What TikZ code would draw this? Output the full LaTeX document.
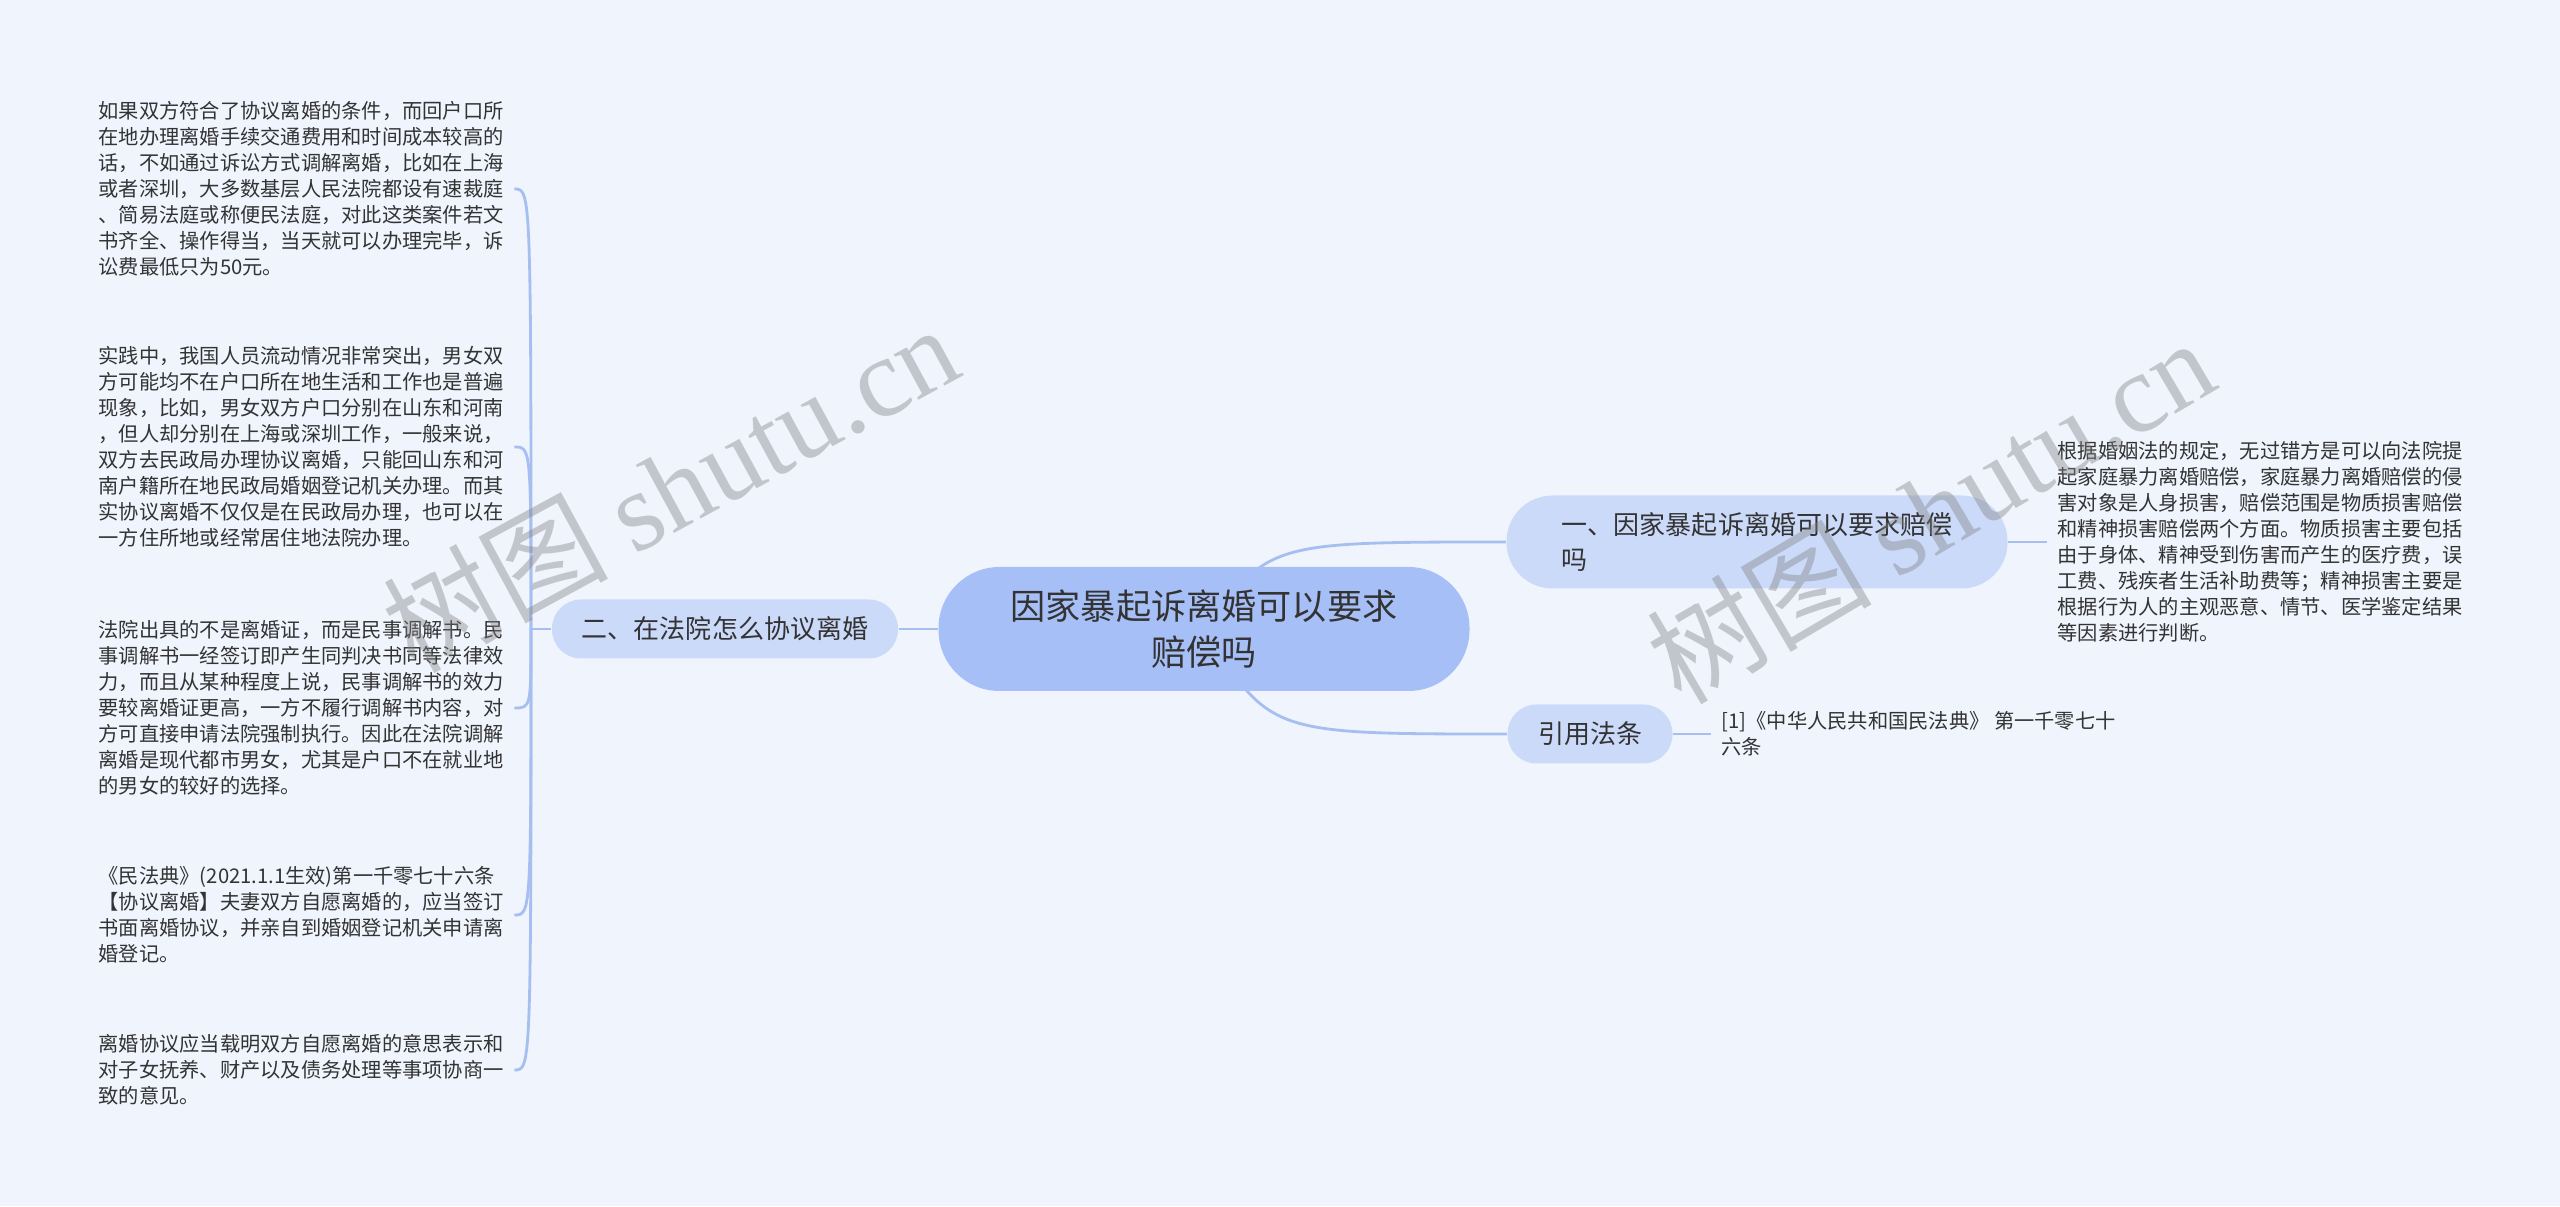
\documentclass[tikz,border=0pt]{standalone}
\usepackage{fontspec}
\setmainfont{Noto Sans CJK SC}
\newfontfamily\wmfont{Liberation Serif}
\usetikzlibrary{positioning, calc, backgrounds}

\definecolor{bgcol}{HTML}{EFF4FD}
\definecolor{rootcol}{HTML}{A7BFF7}
\definecolor{branchcol}{HTML}{CBDAF9}
\definecolor{linecol}{HTML}{A6BFF0}
\definecolor{textcol}{HTML}{333333}

\begin{document}
\begin{tikzpicture}[
    root/.style={rectangle, fill=rootcol, text=textcol, align=center, minimum width=5.31cm, minimum height=1.24cm, rounded corners=0.61cm, font=\fontsize{10}{13.1}\selectfont},
    branch/.style={rectangle, fill=branchcol, text=textcol, minimum height=0.59cm, rounded corners=0.29cm, font=\fontsize{7.4}{9.7}\selectfont},
    leaf/.style={text=textcol, align=left, anchor=west, inner xsep=0.1cm, inner ysep=0pt, font=\fontsize{5.76}{7.4}\selectfont},
    link/.style={draw=linecol, line width=0.8pt},
    watermark/.style={text=black!50, opacity=0.4, font=\fontsize{32}{32}\selectfont}
]
\useasboundingbox (0,0) rectangle (25.6,12.06);

% Root
\node[root] (root) at (12.04,5.77) {因家暴起诉离婚可以要求\\赔偿吗};

% Branches
\node[branch, minimum width=3.46cm] (court) at (7.25,5.77) {二、在法院怎么协议离婚};
\node[branch, align=left, minimum width=5.01cm, minimum height=0.93cm, rounded corners=0.46cm] (claim) at (17.57,6.64) {一、因家暴起诉离婚可以要求赔偿\\吗};
\node[branch, minimum width=1.65cm] (law) at (15.90,4.72) {引用法条};

% Left leaves
\node[leaf] (way) at (0.88,10.17) {如果双方符合了协议离婚的条件，而回户口所\\在地办理离婚手续交通费用和时间成本较高的\\话，不如通过诉讼方式调解离婚，比如在上海\\或者深圳，大多数基层人民法院都设有速裁庭\\、简易法庭或称便民法庭，对此这类案件若文\\书齐全、操作得当，当天就可以办理完毕，诉\\讼费最低只为50元。};
\node[leaf] (home) at (0.88,7.59) {实践中，我国人员流动情况非常突出，男女双\\方可能均不在户口所在地生活和工作也是普遍\\现象，比如，男女双方户口分别在山东和河南\\，但人却分别在上海或深圳工作，一般来说，\\双方去民政局办理协议离婚，只能回山东和河\\南户籍所在地民政局婚姻登记机关办理。而其\\实协议离婚不仅仅是在民政局办理，也可以在\\一方住所地或经常居住地法院办理。};
\node[leaf] (paper) at (0.88,4.98) {法院出具的不是离婚证，而是民事调解书。民\\事调解书一经签订即产生同判决书同等法律效\\力，而且从某种程度上说，民事调解书的效力\\要较离婚证更高，一方不履行调解书内容，对\\方可直接申请法院强制执行。因此在法院调解\\离婚是现代都市男女，尤其是户口不在就业地\\的男女的较好的选择。};
\node[leaf] (code) at (0.88,2.91) {《民法典》(2021.1.1生效)第一千零七十六条\\【协议离婚】夫妻双方自愿离婚的，应当签订\\书面离婚协议，并亲自到婚姻登记机关申请离\\婚登记。};
\node[leaf] (deal) at (0.88,1.36) {离婚协议应当载明双方自愿离婚的意思表示和\\对子女抚养、财产以及债务处理等事项协商一\\致的意见。};

% Right leaves
\node[leaf] (harm) at (20.47,6.64) {根据婚姻法的规定，无过错方是可以向法院提\\起家庭暴力离婚赔偿，家庭暴力离婚赔偿的侵\\害对象是人身损害，赔偿范围是物质损害赔偿\\和精神损害赔偿两个方面。物质损害主要包括\\由于身体、精神受到伤害而产生的医疗费，误\\工费、残疾者生活补助费等；精神损害主要是\\根据行为人的主观恶意、情节、医学鉴定结果\\等因素进行判断。};
\node[leaf] (ref) at (17.11,4.72) {[1]《中华人民共和国民法典》 第一千零七十\\六条};

% Connections
\begin{scope}[on background layer]
\fill[bgcol] (0,0) rectangle (25.6,12.06);
\coordinate (fork) at (5.31,5.77);
\draw[link] (court.west) -- (fork);
\foreach \n in {way,home,paper,code,deal}
  \draw[link] (fork) .. controls (fork |- \n.east) and (fork |- \n.east) .. (\n.east);
\draw[link] (root) -- (court);
\draw[link] (root.center) .. controls (12.7,6.64) .. (claim.west);
\draw[link] (root.center) .. controls (12.7,4.72) .. (law.west);
\draw[link] (claim) -- (harm);
\draw[link] (law) -- (ref);
\end{scope}

% Watermarks
\node[watermark, rotate=28.5] (mark1) at (6.70,7.19) {树图 {\wmfont shutu.cn}};
\node[watermark, rotate=30.5] (mark2) at (19.30,6.96) {树图 {\wmfont shutu.cn}};

\end{tikzpicture}
\end{document}
